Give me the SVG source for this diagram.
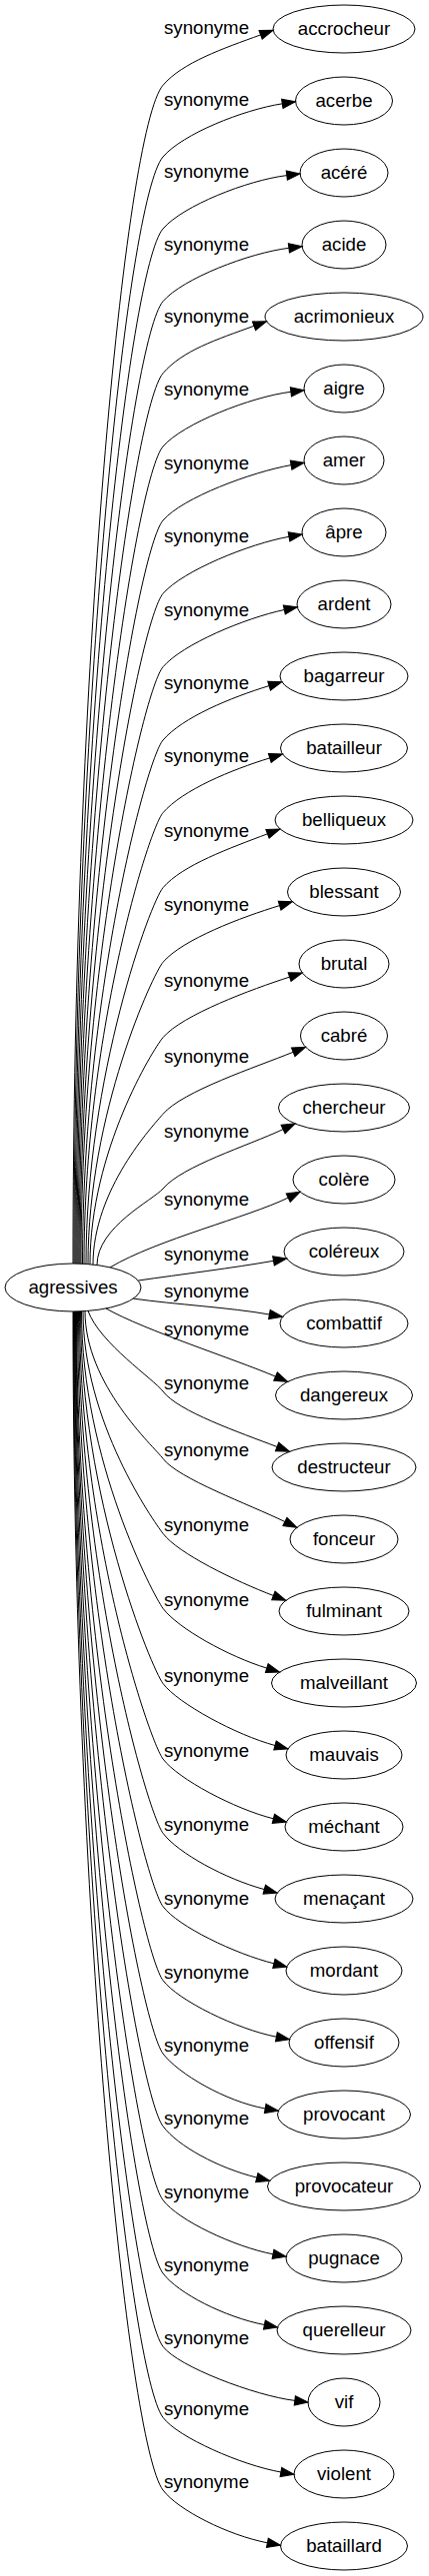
<svg xmlns="http://www.w3.org/2000/svg" width="429" height="2579" viewBox="0 0 429 2579">
<style>
.node ellipse{fill:none;stroke:#000;stroke-width:1}
text{font-family:"Liberation Sans",Arial,sans-serif;font-size:18.67px;text-anchor:middle;fill:#000}
.edge path{fill:none;stroke:#000;stroke-width:1;marker-end:url(#arr)}
</style>
<defs>
<marker id="arr" markerUnits="userSpaceOnUse" viewBox="-1 -6 16 12" refX="0" refY="0" markerWidth="16" markerHeight="12" orient="auto">
<path d="M0,-4.67 L13.33,0 L0,4.67 Z" fill="#000" stroke="#000" stroke-width="1"/>
</marker>
</defs>
<rect width="429" height="2579" fill="#fff"/>
<g id="edges">
<g class="edge" id="e1"><path d="M73,1265 C73,675.2 124.7,130.1 163,85.3 C182.5,62.5 223,48.6 260.6,34.9"/><text x="206.5" y="34.3">synonyme</text></g>
<g class="edge" id="e2"><path d="M74,1265 C74,711 127,199.1 163,157 C182.5,134.2 242.8,110 282.3,103.8"/><text x="206.5" y="106">synonyme</text></g>
<g class="edge" id="e3"><path d="M75,1265 C75,747 129.3,268.4 163,229 C182.5,206.2 247.1,180.5 286.8,175.6"/><text x="206.5" y="178">synonyme</text></g>
<g class="edge" id="e4"><path d="M76,1265 C76,783.4 131.7,338.3 163,301.7 C182.5,278.9 249.2,253.2 288.9,248.3"/><text x="206.5" y="250.7">synonyme</text></g>
<g class="edge" id="e5"><path d="M77,1265 C77,819.4 134,407.6 163,373.7 C182.5,350.9 216.4,340 254,326.3"/><text x="206.5" y="322.7">synonyme</text></g>
<g class="edge" id="e6"><path d="M78,1265 C78,856 136.4,478.1 163,447 C182.5,424.2 251.2,397.2 290.9,392.3"/><text x="206.5" y="396">synonyme</text></g>
<g class="edge" id="e7"><path d="M79,1265 C79,893 138.8,549.3 163,521 C182.5,498.2 251.7,472.6 291.1,465.6"/><text x="206.5" y="470">synonyme</text></g>
<g class="edge" id="e8"><path d="M80,1265 C80,929.7 141.2,619.8 163,594.3 C182.5,571.5 249.6,544.3 289,537.3"/><text x="206.5" y="543.3">synonyme</text></g>
<g class="edge" id="e9"><path d="M81,1265 C81,966.4 143.6,690.4 163,667.7 C182.5,644.9 245.2,618.8 284.3,610.5"/><text x="206.5" y="616.7">synonyme</text></g>
<g class="edge" id="e10"><path d="M82.5,1265 C82.5,1003 146,760.9 163,741 C182.5,718.2 230.9,698.3 269.1,686.6"/><text x="206.5" y="690">synonyme</text></g>
<g class="edge" id="e11"><path d="M84,1265.2 C84,1039.4 148.3,830.9 163,813.7 C182.5,790.9 231.6,770.6 269.8,758.9"/><text x="206.5" y="762.7">synonyme</text></g>
<g class="edge" id="e12"><path d="M86,1265.5 C86,1077.1 150.8,903 163,888.7 C182.5,865.9 230.1,849.1 267.5,834.8"/><text x="206.5" y="837.7">synonyme</text></g>
<g class="edge" id="e13"><path d="M88,1265.6 C88,1114.4 153.2,974.8 163,963.3 C182.5,940.5 241.4,918.3 279.6,906.6"/><text x="206.5" y="912.3">synonyme</text></g>
<g class="edge" id="e14"><path d="M90,1265.8 C90,1152.3 153.3,1050.1 163,1038.7 C182.5,1015.9 251.6,990.5 289.6,978.1"/><text x="206.5" y="987.7">synonyme</text></g>
<g class="edge" id="e15"><path d="M93,1266.1 C93,1190.7 153.3,1126.7 163,1115.3 C182.5,1092.5 256.1,1068.3 293.2,1053.3"/><text x="206.5" y="1064.3">synonyme</text></g>
<g class="edge" id="e16"><path d="M97,1266.5 C97,1228.3 153.3,1201.4 163,1190 C182.5,1167.2 246.9,1147.5 283.1,1130.6"/><text x="206.5" y="1139">synonyme</text></g>
<g class="edge" id="e17"><path d="M110,1268.9 C157.3,1240.9 247.7,1218.8 288.2,1199.1"/><text x="206.5" y="1206.7">synonyme</text></g>
<g class="edge" id="e18"><path d="M138.3,1282 C180,1276 234.1,1269.3 273.5,1262.3"/><text x="206.5" y="1261.7">synonyme</text></g>
<g class="edge" id="e19"><path d="M133.3,1300.1 C175,1306 230,1309 269.4,1316"/><text x="206.5" y="1299">synonyme</text></g>
<g class="edge" id="e20"><path d="M106,1310 C145,1332 234.1,1360.5 275.5,1378.1"/><text x="206.5" y="1336.7">synonyme</text></g>
<g class="edge" id="e21"><path d="M88,1312.4 C100,1345 154,1381 163,1393 C178,1413 239.7,1434.2 277.1,1448.5"/><text x="206.5" y="1391">synonyme</text></g>
<g class="edge" id="e22"><path d="M85,1312.6 C85,1386.5 154,1448.3 163,1460.3 C178,1480.3 248.9,1506 284.9,1523.5"/><text x="206.5" y="1458.3">synonyme</text></g>
<g class="edge" id="e23"><path d="M83,1312.7 C83,1424 154,1523.3 163,1535.3 C178,1555.3 236,1583.2 273.4,1597.5"/><text x="206.5" y="1533.3">synonyme</text></g>
<g class="edge" id="e24"><path d="M81.5,1313 C81.5,1461.7 154,1598.3 163,1610.3 C178,1630.3 228.6,1658.4 266.8,1670.1"/><text x="206.5" y="1608.3">synonyme</text></g>
<g class="edge" id="e25"><path d="M80.5,1313 C80.5,1499.3 151.8,1670.6 163,1685.5 C178,1705.5 236.4,1737.1 275,1747.5"/><text x="206.5" y="1683.5">synonyme</text></g>
<g class="edge" id="e26"><path d="M79.5,1313 C79.5,1537 149.6,1743.1 163,1761 C178,1781 234.6,1811.1 273.4,1820.8"/><text x="206.5" y="1759">synonyme</text></g>
<g class="edge" id="e27"><path d="M78.5,1313 C78.5,1574.2 147.3,1814.4 163,1835.3 C178,1855.3 225.7,1881.2 264.3,1891.6"/><text x="206.5" y="1833.3">synonyme</text></g>
<g class="edge" id="e28"><path d="M77.5,1313 C77.5,1610.9 145.1,1884.9 163,1908.7 C178,1928.7 235.1,1956.1 273.9,1965.8"/><text x="206.5" y="1906.7">synonyme</text></g>
<g class="edge" id="e29"><path d="M76.5,1313 C76.5,1647.9 142.9,1955.9 163,1982.7 C178,2002.7 237.1,2031.6 276.4,2039.2"/><text x="206.5" y="1980.7">synonyme</text></g>
<g class="edge" id="e30"><path d="M76,1313 C76,1684.5 140.7,2026.2 163,2056 C178,2076 225.8,2104 265.2,2111"/><text x="206.5" y="2054">synonyme</text></g>
<g class="edge" id="e31"><path d="M75.5,1313 C75.5,1720.9 138.5,2096.1 163,2128.7 C178,2148.7 218,2170.4 256.8,2180.1"/><text x="206.5" y="2126.7">synonyme</text></g>
<g class="edge" id="e32"><path d="M75,1313 C75,1757.9 136.3,2167.1 163,2202.7 C178,2222.7 233.7,2249.2 273,2256.8"/><text x="206.5" y="2200.7">synonyme</text></g>
<g class="edge" id="e33"><path d="M74.5,1313 C74.5,1794.5 134.1,2237.4 163,2276 C178,2296 225.1,2319.9 264.4,2327.5"/><text x="206.5" y="2274">synonyme</text></g>
<g class="edge" id="e34"><path d="M74,1313 C74,1831.2 131.9,2307.9 163,2349.3 C178,2369.3 255.1,2398.5 294.8,2403.4"/><text x="206.5" y="2347.3">synonyme</text></g>
<g class="edge" id="e35"><path d="M73.5,1313 C73.5,1866.7 129.8,2376 163,2420.3 C178,2440.3 241.5,2468 280.9,2475"/><text x="206.5" y="2418.3">synonyme</text></g>
<g class="edge" id="e36"><path d="M73,1313 C73,1903 127.6,2445.8 163,2493 C178,2513 228.1,2538.2 267.4,2545.8"/><text x="206.5" y="2491">synonyme</text></g>
</g>
<g id="nodes">
<g class="node" id="n0"><ellipse cx="73" cy="1289" rx="68" ry="24"/><text x="73" y="1295">agressives</text></g>
<g class="node" id="n1"><ellipse cx="344" cy="29" rx="71" ry="24"/><text x="344" y="35">accrocheur</text></g>
<g class="node" id="n2"><ellipse cx="344" cy="101" rx="48.5" ry="24"/><text x="344" y="107">acerbe</text></g>
<g class="node" id="n3"><ellipse cx="344" cy="173" rx="44" ry="24"/><text x="344" y="179">acéré</text></g>
<g class="node" id="n4"><ellipse cx="344" cy="245" rx="42" ry="24"/><text x="344" y="251">acide</text></g>
<g class="node" id="n5"><ellipse cx="344" cy="317" rx="79" ry="24"/><text x="344" y="323">acrimonieux</text></g>
<g class="node" id="n6"><ellipse cx="344" cy="389" rx="40" ry="24"/><text x="344" y="395">aigre</text></g>
<g class="node" id="n7"><ellipse cx="344" cy="461" rx="40" ry="24"/><text x="344" y="467">amer</text></g>
<g class="node" id="n8"><ellipse cx="344" cy="533" rx="42" ry="24"/><text x="344" y="539">âpre</text></g>
<g class="node" id="n9"><ellipse cx="344" cy="605" rx="47" ry="24"/><text x="344" y="611">ardent</text></g>
<g class="node" id="n10"><ellipse cx="344" cy="677" rx="64" ry="24"/><text x="344" y="683">bagarreur</text></g>
<g class="node" id="n11"><ellipse cx="344" cy="749" rx="63.5" ry="24"/><text x="344" y="755">batailleur</text></g>
<g class="node" id="n12"><ellipse cx="344" cy="821" rx="69" ry="24"/><text x="344" y="827">belliqueux</text></g>
<g class="node" id="n13"><ellipse cx="344" cy="893" rx="56.5" ry="24"/><text x="344" y="899">blessant</text></g>
<g class="node" id="n14"><ellipse cx="344" cy="965" rx="45" ry="24"/><text x="344" y="971">brutal</text></g>
<g class="node" id="n15"><ellipse cx="344" cy="1037" rx="43.5" ry="24"/><text x="344" y="1043">cabré</text></g>
<g class="node" id="n16"><ellipse cx="344" cy="1109" rx="65.5" ry="24"/><text x="344" y="1115">chercheur</text></g>
<g class="node" id="n17"><ellipse cx="344" cy="1181" rx="51" ry="24"/><text x="344" y="1187">colère</text></g>
<g class="node" id="n18"><ellipse cx="344" cy="1253" rx="60" ry="24"/><text x="344" y="1259">coléreux</text></g>
<g class="node" id="n19"><ellipse cx="344" cy="1325" rx="64" ry="24"/><text x="344" y="1331">combattif</text></g>
<g class="node" id="n20"><ellipse cx="344" cy="1397" rx="68.5" ry="24"/><text x="344" y="1403">dangereux</text></g>
<g class="node" id="n21"><ellipse cx="344" cy="1469" rx="72" ry="24"/><text x="344" y="1475">destructeur</text></g>
<g class="node" id="n22"><ellipse cx="344" cy="1541" rx="54" ry="24"/><text x="344" y="1547">fonceur</text></g>
<g class="node" id="n23"><ellipse cx="344" cy="1613" rx="65" ry="24"/><text x="344" y="1619">fulminant</text></g>
<g class="node" id="n24"><ellipse cx="344" cy="1685" rx="72.5" ry="24"/><text x="344" y="1691">malveillant</text></g>
<g class="node" id="n25"><ellipse cx="344" cy="1757" rx="58" ry="24"/><text x="344" y="1763">mauvais</text></g>
<g class="node" id="n26"><ellipse cx="344" cy="1829" rx="59" ry="24"/><text x="344" y="1835">méchant</text></g>
<g class="node" id="n27"><ellipse cx="344" cy="1901" rx="69" ry="24"/><text x="344" y="1907">menaçant</text></g>
<g class="node" id="n28"><ellipse cx="344" cy="1973" rx="58" ry="24"/><text x="344" y="1979">mordant</text></g>
<g class="node" id="n29"><ellipse cx="344" cy="2045" rx="55" ry="24"/><text x="344" y="2051">offensif</text></g>
<g class="node" id="n30"><ellipse cx="344" cy="2117" rx="66.5" ry="24"/><text x="344" y="2123">provocant</text></g>
<g class="node" id="n31"><ellipse cx="344" cy="2189" rx="76.5" ry="24"/><text x="344" y="2195">provocateur</text></g>
<g class="node" id="n32"><ellipse cx="344" cy="2261" rx="58" ry="24"/><text x="344" y="2267">pugnace</text></g>
<g class="node" id="n33"><ellipse cx="344" cy="2333" rx="67" ry="24"/><text x="344" y="2339">querelleur</text></g>
<g class="node" id="n34"><ellipse cx="344" cy="2405" rx="36" ry="24"/><text x="344" y="2411">vif</text></g>
<g class="node" id="n35"><ellipse cx="344" cy="2477" rx="50" ry="24"/><text x="344" y="2483">violent</text></g>
<g class="node" id="n36"><ellipse cx="344" cy="2549" rx="63.5" ry="24"/><text x="344" y="2555">bataillard</text></g>
</g>
</svg>
